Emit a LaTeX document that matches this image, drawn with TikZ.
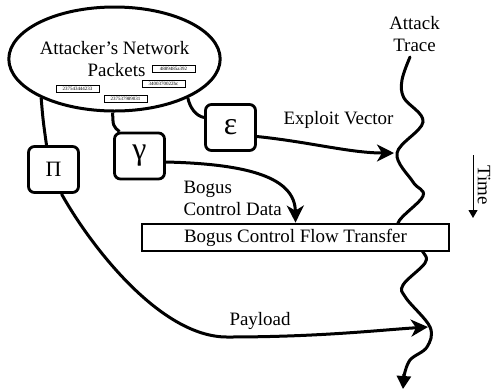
\documentclass[tikz,border=0pt]{standalone}
\usepackage{fontspec}
\setmainfont{Liberation Serif}
\usepackage{tikz}
\usetikzlibrary{arrows.meta,shapes.geometric}

\newcommand{\lblfont}{\fontsize{19}{22}\selectfont}
\newcommand{\greekfont}{\fontsize{32}{36}\selectfont}
\newcommand{\pktfont}{\fontsize{5}{6}\selectfont}

\tikzset{
	flow/.style={line width=3bp},
	arr/.style={flow, -{Stealth[length=17bp,width=17bp,inset=5bp]}},
	greekbox/.style={draw, line width=2.8bp, rounded corners=6bp, minimum width=50bp, minimum height=46bp, inner sep=0pt, font=\greekfont},
	pktbox/.style={draw, line width=0.6bp, minimum width=43bp, minimum height=7bp, inner sep=0.5bp, font=\pktfont},
}

\begin{document}
\begin{tikzpicture}[x=1bp, y=-1bp, font=\lblfont]
		\useasboundingbox (0,0) rectangle (496,390);
		
		% Packets cloud
		\node[ellipse, draw, line width=3bp, minimum width=198bp, minimum height=104bp, inner sep=0pt, align=center] (packets) at (114.5,59) {Attacker’s Network\\\hspace*{4bp}Packets};
		\node[pktbox] (pkt1) at (173.5,68.5) {4889485a392};
		\node[pktbox] (pkt2) at (163.5,84) {3400370022hc};
		\node[pktbox] (pkt3) at (77.5,88.5) {237543444233};
		\node[pktbox] (pkt4) at (125.5,98.5) {237537989031};
		
		% Greek boxes
		\node[greekbox, font=\fontsize{22}{24}\selectfont] (pi) at (53.5,169.5) {Π};
		\node[greekbox] (gamma) at (139.5,156) {γ};
		\node[greekbox] (eps) at (230.5,127.5) {ε};
		
		% Attack trace
		\draw[flow, line cap=round] plot[smooth, tension=0.6] coordinates {(410,57) (402,80) (404,98) (423,122) (397,153) (413,182) (423,196) (398,223) (410,238) (423,252) (425,263) (403,285) (406,298) (430,327) (427,347) (410,360) (404,376)};
		\draw[flow, -{Triangle[length=13bp,width=14bp]}] (404,374) -- (403,389);
		\coordinate (hit1) at (394,153);
		\coordinate (hit2) at (428,327);
		\node[align=center] (trace) at (414.5,34) {Attack\\Trace};
		
		% Control flow transfer
		\node[draw, fill=white, line width=2.8bp, minimum width=307bp, minimum height=27bp, inner sep=0pt] (transfer) at (295.5,237.5) {Bogus Control Flow Transfer};
		
		% Connectors
		\draw[flow] (packets.208) .. controls (43,120) .. ([xshift=-7bp]pi.north);
		\draw[flow] (packets.268) .. controls (113,126) .. ([xshift=-20bp]gamma.north);
		\draw[flow] (packets.332) .. controls (190,108) and (196,116) .. ([yshift=10bp]eps.west);
		\draw[arr] ([yshift=-9bp]eps.east) .. controls (310,142) and (350,153) .. (hit1);
		\draw[arr] ([yshift=-6bp]gamma.east) .. controls (250,164) and (295,178) .. (transfer.north);
		\draw[arr] ([xshift=8bp]pi.south) .. controls (90,245) and (160,337) .. (227,337) .. controls (320,337) and (380,330) .. (hit2);
		
		% Labels
		\node[anchor=base] (exploit) at (338.5,124) {Exploit Vector};
		\node[anchor=base west, align=left] (bogus) at (180,215) {Bogus\\Control Data};
		\node[anchor=base] (payload) at (260,325) {Payload};
		
		% Time axis
		\coordinate (t0) at (473,155);
		\coordinate (t1) at (473,218);
		\draw[line width=1bp, -{Triangle[length=8bp,width=9bp]}] (t0) -- (t1);
		\node[rotate=-90] (time) at (484,185) {Time};
	\end{tikzpicture}
\end{document}
